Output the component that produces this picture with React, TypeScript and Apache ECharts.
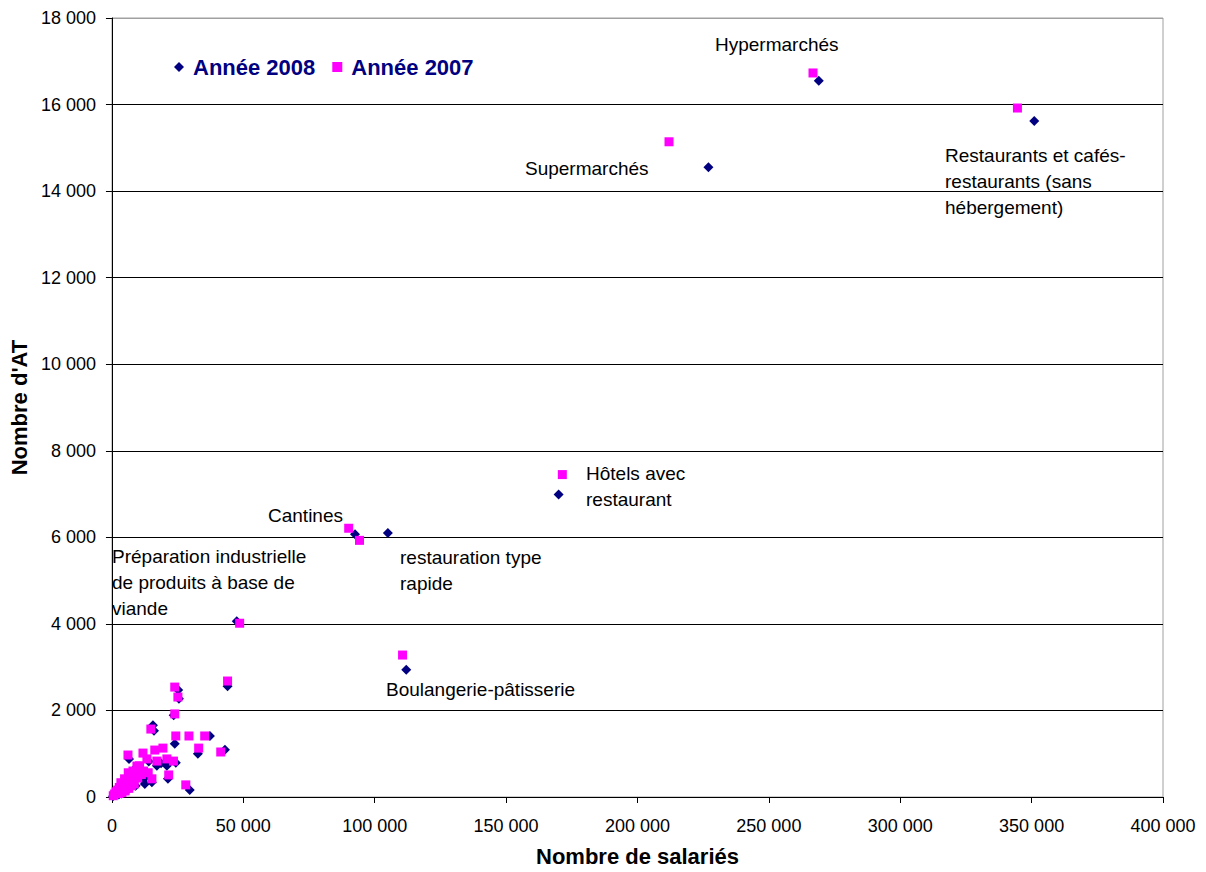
import React, { useEffect, useRef } from "react";
import * as echarts from "echarts";

// Année 2008 (navy diamonds): Nombre de salariés / Nombre d'AT
const sal2008 = [269000, 351000, 227000, 170000, 92500, 105000, 112000, 47500, 44000, 25200, 25500, 23500, 15600, 16000, 23900, 37300, 32700, 43000, 6500, 17100, 24300, 20900, 21300, 29600, 15200, 12500, 18700, 14000, 11000, 9500, 10200, 8800, 7600, 6800, 5800, 5200, 4500, 3900, 3300, 2800, 2200, 1700, 1200, 800, 400, 9000, 7200, 6000, 4800, 3600, 2600, 13000, 11800, 8200, 5400];
const at2008 = [16550, 15620, 14550, 6990, 6070, 6100, 2940, 4060, 2560, 2470, 2270, 1890, 1660, 1530, 1230, 1410, 1000, 1090, 880, 720, 790, 720, 420, 160, 340, 300, 780, 820, 640, 700, 480, 560, 420, 520, 360, 300, 380, 250, 300, 180, 150, 110, 90, 50, 20, 260, 230, 160, 120, 80, 60, 480, 400, 350, 200];

// Année 2007 (pink squares)
const sal2007 = [266800, 344600, 212000, 171400, 90100, 94200, 110600, 48600, 44000, 23900, 25100, 23900, 14800, 24300, 29300, 35300, 33000, 41400, 6100, 11800, 16300, 19400, 20900, 23400, 17100, 13300, 9500, 21600, 15200, 28100, 12000, 10500, 9000, 8000, 7000, 6200, 5500, 4800, 4000, 3400, 2800, 2200, 1600, 1000, 500, 8500, 7400, 6400, 5000, 3800, 2600, 11200, 9800, 13800, 5800];
const at2007 = [16730, 15920, 15140, 7450, 6210, 5930, 3280, 4015, 2680, 2540, 2310, 1920, 1570, 1410, 1410, 1410, 1130, 1040, 970, 1015, 1085, 1130, 880, 830, 830, 880, 715, 510, 420, 280, 600, 720, 520, 600, 450, 560, 400, 420, 300, 330, 220, 160, 120, 70, 30, 300, 260, 200, 140, 100, 80, 520, 440, 560, 240];

const seriesNames = ["Année 2008", "Année 2007"];
const xTitle = "Nombre de salariés";
const yTitle = "Nombre d'AT";

const annotations = [
  { text: "Hypermarchés", x: 715, y: 44 },
  { text: "Supermarchés", x: 525, y: 168 },
  { text: "Restaurants et cafés-\nrestaurants (sans\nhébergement)", x: 945, y: 155 },
  { text: "Hôtels avec\nrestaurant", x: 586, y: 473 },
  { text: "Cantines", x: 268, y: 515 },
  { text: "Préparation industrielle\nde produits à base de\nviande", x: 112, y: 556 },
  { text: "restauration type\nrapide", x: 400, y: 557 },
  { text: "Boulangerie-pâtisserie", x: 386, y: 689 },
];

const FONT = "'Liberation Sans', Arial, Helvetica, sans-serif";

function fmt(v: number): string {
  return String(v).replace(/\B(?=(\d{3})+(?!\d))/g, " ");
}

export default function App() {
  const ref = useRef<HTMLDivElement>(null);
  useEffect(() => {
    document.body.style.margin = "0";
    const chart = echarts.init(ref.current!, undefined, { renderer: "svg" });
    const LH = 26;
    chart.setOption({
      animation: false,
      backgroundColor: "#ffffff",
      textStyle: { fontFamily: FONT },
      grid: {
        left: 110,
        right: 43,
        top: 18,
        bottom: 74,
        show: true,
        borderColor: "#a0a0a0",
        borderWidth: 1,
        backgroundColor: "transparent",
      },
      legend: {
        data: seriesNames,
        left: 169,
        top: 51,
        itemWidth: 10,
        itemHeight: 10,
        itemGap: 17,
        textStyle: {
          fontFamily: FONT,
          fontSize: 22,
          fontWeight: "bold",
          color: "#000080",
          padding: [0, 0, 0, 4],
        },
      },
      xAxis: {
        type: "value",
        min: 0,
        max: 400000,
        interval: 50000,
        name: xTitle,
        nameLocation: "middle",
        nameGap: 48,
        nameTextStyle: { fontFamily: FONT, fontSize: 22, fontWeight: "bold", color: "#000" },
        axisLine: { show: true, onZero: false, lineStyle: { color: "#000", width: 1 } },
        axisTick: { show: true, inside: false, length: 6, lineStyle: { color: "#000" } },
        axisLabel: { formatter: fmt, fontFamily: FONT, fontSize: 18, color: "#000", margin: 20 },
        splitLine: { show: false },
      },
      yAxis: {
        type: "value",
        min: 0,
        max: 18000,
        interval: 2000,
        name: yTitle,
        nameLocation: "middle",
        nameGap: 78,
        nameRotate: 90,
        nameTextStyle: { fontFamily: FONT, fontSize: 22, fontWeight: "bold", color: "#000" },
        axisLine: { show: true, onZero: false, lineStyle: { color: "#000", width: 1 } },
        axisTick: { show: true, inside: false, length: 6, lineStyle: { color: "#000" } },
        axisLabel: { formatter: fmt, fontFamily: FONT, fontSize: 18, color: "#000", margin: 16 },
        splitLine: {
          show: true,
          lineStyle: {
            color: ["#000", "#000", "#000", "#000", "#000", "#000", "#000", "#000", "#000", "#a0a0a0"],
            width: 1,
          },
        },
      },
      series: [
        {
          name: seriesNames[0],
          type: "scatter",
          symbol: "diamond",
          symbolSize: 10,
          itemStyle: { color: "#000080", opacity: 1 },
          data: sal2008.map((s, i) => [s, at2008[i]]),
          z: 2,
        },
        {
          name: seriesNames[1],
          type: "scatter",
          symbol: "rect",
          symbolSize: 9,
          itemStyle: { color: "#ff00ff", opacity: 1 },
          data: sal2007.map((s, i) => [s, at2007[i]]),
          z: 3,
        },
      ],
      graphic: annotations.map((a) => ({
        type: "text",
        left: a.x,
        top: a.y - LH / 2,
        z: 10,
        style: {
          text: a.text,
          fontFamily: FONT,
          fontSize: 19,
          lineHeight: LH,
          fill: "#000",
        },
      })),
    });
    return () => chart.dispose();
  }, []);
  return <div ref={ref} style={{ width: 1206, height: 872 }} />;
}
